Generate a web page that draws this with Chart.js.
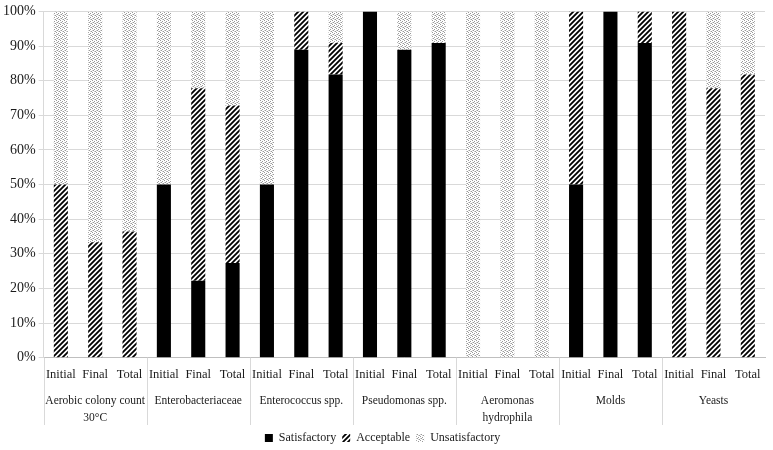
<!DOCTYPE html>
<html>
<head>
<meta charset="utf-8">
<script src="https://cdn.jsdelivr.net/npm/chart.js@4"></script>
<style>
  body { margin: 0; background: #fff; }
  #wrap { width: 773px; height: 450px; }
</style>
</head>
<body>
<div id="wrap"><canvas id="myChart" width="773" height="450"></canvas></div>
<script>
var groups = [
    ['Aerobic colony count', '30\u00b0C'],
    'Enterobacteriaceae',
    'Enterococcus spp.',
    'Pseudomonas spp.',
    ['Aeromonas', 'hydrophila'],
    'Molds',
    'Yeasts'
];
var stages = ['Initial', 'Final', 'Total'];
var yTicks = [0, 10, 20, 30, 40, 50, 60, 70, 80, 90, 100];

// percentages per bar, in order group by group (Initial, Final, Total)
var satisfactory = [0, 0, 0, 50, 22.2, 27.3, 50, 88.9, 81.8, 100, 88.9, 90.9, 0, 0, 0, 50, 100, 90.9, 0, 0, 0];
var acceptable = [50, 33.3, 36.4, 0, 55.6, 45.5, 0, 11.1, 9.1, 0, 0, 0, 0, 0, 0, 50, 0, 9.1, 100, 77.8, 81.8];
var unsatisfactory = [50, 66.7, 63.6, 50, 22.2, 27.2, 50, 0, 9.1, 0, 11.1, 9.1, 100, 100, 100, 0, 0, 0, 0, 22.2, 18.2];

var labels = [];
groups.forEach(function (g) {
    stages.forEach(function (s) { labels.push(s); });
});

function hatchPattern() {
    var c = document.createElement('canvas');
    c.width = 5; c.height = 5;
    var p = c.getContext('2d');
    p.fillStyle = '#fff';
    p.fillRect(0, 0, 5, 5);
    p.strokeStyle = '#000';
    p.lineWidth = 1.8;
    p.beginPath();
    p.moveTo(-1, 6); p.lineTo(6, -1);
    p.moveTo(-1, 1); p.lineTo(1, -1);
    p.moveTo(4, 6); p.lineTo(6, 4);
    p.stroke();
    return p.createPattern(c, 'repeat');
}

function dotPattern() {
    var c = document.createElement('canvas');
    c.width = 4; c.height = 4;
    var p = c.getContext('2d');
    p.fillStyle = '#fff';
    p.fillRect(0, 0, 4, 4);
    p.fillStyle = '#9a9a9a';
    p.fillRect(0, 0, 1, 1);
    p.fillRect(2, 1, 1, 1);
    p.fillRect(1, 2, 1, 1);
    p.fillRect(3, 3, 1, 1);
    p.fillStyle = '#d0d0d0';
    p.fillRect(2, 3, 1, 1);
    p.fillRect(0, 2, 1, 1);
    return p.createPattern(c, 'repeat');
}

var separators = {
    id: 'separators',
    afterDraw: function (chart) {
        var x = chart.scales.x;
        var ctx = chart.ctx;
        var step = x.getPixelForValue(1) - x.getPixelForValue(0);
        var bottom = chart.scales.x2.bottom - 1;
        ctx.save();
        ctx.strokeStyle = '#d9d9d9';
        ctx.lineWidth = 1;
        for (var g = 0; g < groups.length; g++) {
            var px = Math.round(x.getPixelForValue(g * 3) - step / 2) + 0.5;
            ctx.beginPath();
            ctx.moveTo(px, chart.chartArea.bottom);
            ctx.lineTo(px, bottom);
            ctx.stroke();
        }
        ctx.restore();
    }
};

Chart.defaults.font.family = "'Liberation Serif', 'Times New Roman', serif";
Chart.defaults.font.size = 12;
Chart.defaults.color = '#1a1a1a';

var ctx = document.getElementById('myChart').getContext('2d');
var myChart = new Chart(ctx, {
    type: 'bar',
    data: {
        labels: labels,
        datasets: [
            { label: 'Satisfactory', data: satisfactory, backgroundColor: '#000' },
            { label: 'Acceptable', data: acceptable, backgroundColor: hatchPattern() },
            { label: 'Unsatisfactory', data: unsatisfactory, backgroundColor: dotPattern() }
        ]
    },
    options: {
        responsive: false,
        animation: false,
        devicePixelRatio: 1,
        layout: { padding: { top: 2, right: 8, left: 0, bottom: -4 } },
        datasets: { bar: { categoryPercentage: 1, barPercentage: 0.41 } },
        scales: {
            x: {
                stacked: true,
                grid: { display: false, drawTicks: false },
                border: { display: true, color: '#bfbfbf' },
                ticks: { padding: 10, maxRotation: 0, autoSkip: false, font: { size: 12.5 } }
            },
            x2: {
                type: 'category',
                labels: groups,
                position: 'bottom',
                grid: { display: false, drawTicks: false },
                border: { display: false },
                ticks: { padding: 0, maxRotation: 0, autoSkip: false, font: { size: 11.5, lineHeight: 1.45 } }
            },
            y: {
                stacked: true,
                min: 0,
                max: 100,
                afterBuildTicks: function (axis) {
                    axis.ticks = yTicks.map(function (v) { return { value: v }; });
                },
                ticks: {
                    padding: 3,
                    font: { size: 14 },
                    callback: function (v) { return v + '%'; }
                },
                grid: { color: '#d9d9d9', tickLength: 5 },
                border: { display: true, color: '#d9d9d9' }
            }
        },
        plugins: {
            legend: {
                position: 'bottom',
                labels: {
                    boxWidth: 8,
                    boxHeight: 8,
                    padding: 6,
                    font: { size: 12 }
                }
            },
            tooltip: { enabled: false }
        }
    },
    plugins: [separators]
});
</script>
</body>
</html>
